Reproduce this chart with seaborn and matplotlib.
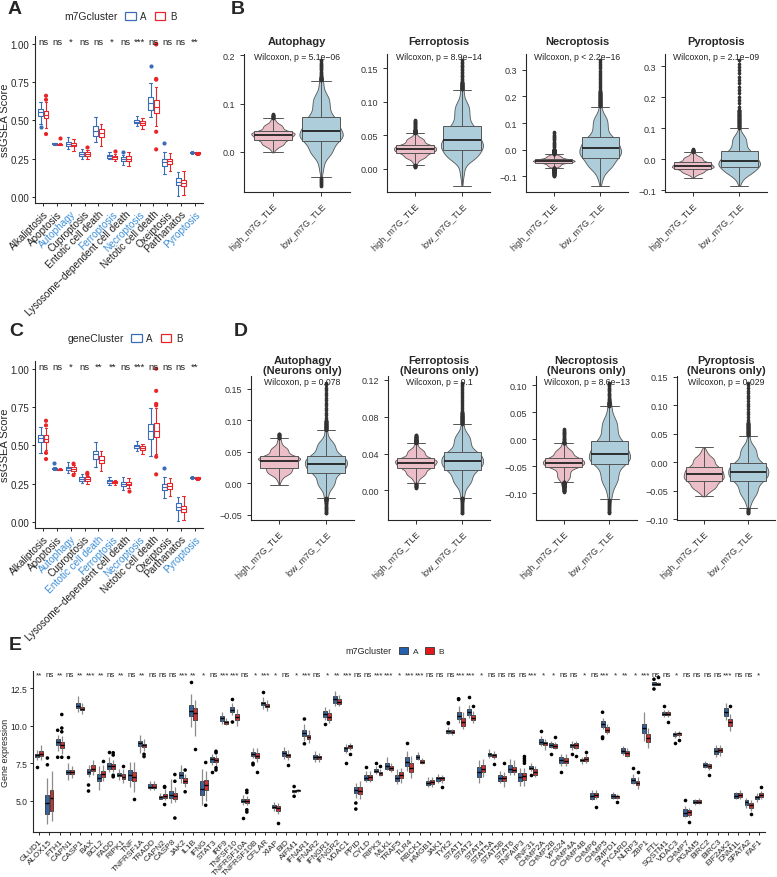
import numpy as np
import pandas as pd
import matplotlib
matplotlib.use("Agg")
import matplotlib.pyplot as plt
from matplotlib.patches import Patch
import seaborn as sns

sns.set_style("ticks")
plt.rcParams["font.family"] = ["Liberation Sans", "DejaVu Sans"]
plt.rcParams["axes.linewidth"] = 0.8

W, H = 777, 878

# ---------------- panels A / C ----------------
pcd_types = ["Alkaliptosis", "Apoptosis", "Autophagy", "Cuproptosis",
             "Entotic cell death", "Ferroptosis", "Lysosome\u2212dependent cell death",
             "Necroptosis", "Netotic cell death", "Oxeiptosis", "Parthanatos", "Pyroptosis"]
sig_m7g = ["ns", "ns", "*", "ns", "ns", "*", "ns", "***", "ns", "ns", "ns", "**"]
sig_gene = ["ns", "ns", "*", "ns", "**", "**", "ns", "***", "ns", "ns", "ns", "**"]
hl_m7g = ["Autophagy", "Ferroptosis", "Necroptosis", "Pyroptosis"]
hl_gene = ["Autophagy", "Entotic cell death", "Ferroptosis", "Necroptosis", "Pyroptosis"]

# (lower whisker, q1, median, q3, upper whisker)
m7g_A = [(0.475, 0.525, 0.552, 0.575, 0.62), (0.340, 0.343, 0.346, 0.349, 0.352),
         (0.31, 0.335, 0.345, 0.36, 0.39), (0.25, 0.27, 0.28, 0.29, 0.31),
         (0.355, 0.40, 0.43, 0.46, 0.52), (0.245, 0.255, 0.265, 0.272, 0.29),
         (0.205, 0.235, 0.245, 0.26, 0.275), (0.46, 0.482, 0.49, 0.50, 0.525),
         (0.52, 0.57, 0.61, 0.655, 0.74), (0.15, 0.20, 0.225, 0.245, 0.29),
         (0.005, 0.075, 0.10, 0.12, 0.165), (0.28, 0.285, 0.29, 0.295, 0.30)]
m7g_B = [(0.45, 0.513, 0.535, 0.563, 0.62), (0.338, 0.341, 0.344, 0.347, 0.35),
         (0.30, 0.33, 0.34, 0.352, 0.38), (0.25, 0.268, 0.28, 0.29, 0.305),
         (0.335, 0.39, 0.415, 0.44, 0.475), (0.235, 0.25, 0.258, 0.268, 0.28),
         (0.20, 0.235, 0.25, 0.265, 0.29), (0.44, 0.467, 0.48, 0.493, 0.515),
         (0.46, 0.545, 0.585, 0.635, 0.72), (0.17, 0.215, 0.235, 0.25, 0.285),
         (0.01, 0.07, 0.09, 0.108, 0.17), (0.275, 0.28, 0.285, 0.29, 0.295)]
m7g_out_A = {"Alkaliptosis": [0.455], "Lysosome\u2212dependent cell death": [0.29],
             "Netotic cell death": [0.855], "Oxeiptosis": [0.35]}
m7g_out_B = {"Alkaliptosis": [0.66, 0.634, 0.41], "Apoptosis": [0.385], "Cuproptosis": [0.325],
             "Ferroptosis": [0.30], "Netotic cell death": [1.0, 0.995, 0.77, 0.765, 0.425, 0.31]}

gene_A = [(0.45, 0.52, 0.545, 0.57, 0.62), (0.34, 0.343, 0.346, 0.35, 0.355),
          (0.32, 0.34, 0.35, 0.36, 0.39), (0.255, 0.27, 0.28, 0.29, 0.31),
          (0.355, 0.41, 0.44, 0.465, 0.52), (0.24, 0.255, 0.265, 0.272, 0.295),
          (0.21, 0.235, 0.245, 0.26, 0.29), (0.465, 0.482, 0.492, 0.50, 0.525),
          (0.43, 0.54, 0.59, 0.64, 0.74), (0.155, 0.205, 0.23, 0.245, 0.29),
          (0.005, 0.08, 0.10, 0.12, 0.165), (0.28, 0.285, 0.29, 0.295, 0.30)]
gene_B = [(0.47, 0.52, 0.54, 0.565, 0.61), (0.338, 0.341, 0.344, 0.347, 0.35),
          (0.32, 0.335, 0.345, 0.355, 0.37), (0.25, 0.27, 0.278, 0.29, 0.30),
          (0.335, 0.385, 0.405, 0.43, 0.46), (0.24, 0.252, 0.258, 0.265, 0.275),
          (0.22, 0.238, 0.25, 0.262, 0.285), (0.445, 0.468, 0.48, 0.493, 0.51),
          (0.44, 0.555, 0.595, 0.645, 0.74), (0.17, 0.215, 0.235, 0.255, 0.285),
          (0.01, 0.065, 0.085, 0.105, 0.17), (0.275, 0.28, 0.285, 0.29, 0.295)]
gene_out_A = {"Apoptosis": [0.385], "Oxeiptosis": [0.35]}
gene_out_B = {"Alkaliptosis": [0.66, 0.63, 0.45, 0.41], "Autophagy": [0.38, 0.305],
              "Cuproptosis": [0.32, 0.31], "Lysosome\u2212dependent cell death": [0.20],
              "Netotic cell death": [1.0, 0.855, 0.77, 0.76, 0.425, 0.31]}

# ---------------- panels B / D ----------------
vio_groups = ["high_m7G_TLE", "low_m7G_TLE"]
vio_titles = ["Autophagy", "Ferroptosis", "Necroptosis", "Pyroptosis"]
vio_probs = [0, 0.01, 0.05, 0.25, 0.5, 0.75, 0.95, 0.99, 1]
p_all = ["Wilcoxon, p = 5.1e\u221206", "Wilcoxon, p = 8.9e\u221214",
         "Wilcoxon, p < 2.2e\u221216", "Wilcoxon, p = 2.1e\u221209"]
p_neu = ["Wilcoxon, p = 0.078", "Wilcoxon, p = 0.1",
         "Wilcoxon, p = 8.6e\u221213", "Wilcoxon, p = 0.029"]
q_all_high = [[-0.001, 0.005, 0.012, 0.025, 0.035, 0.043, 0.058, 0.068, 0.078],
              [0.003, 0.008, 0.015, 0.024, 0.030, 0.036, 0.047, 0.058, 0.073],
              [-0.098, -0.085, -0.065, -0.048, -0.042, -0.035, -0.02, 0.0, 0.065],
              [-0.06, -0.052, -0.045, -0.03, -0.02, -0.008, 0.01, 0.022, 0.032]]
q_all_low = [[-0.07, -0.04, -0.01, 0.023, 0.044, 0.073, 0.12, 0.155, 0.19],
             [-0.025, -0.01, 0.012, 0.028, 0.043, 0.064, 0.10, 0.13, 0.162],
             [-0.135, -0.11, -0.075, -0.03, 0.005, 0.047, 0.13, 0.22, 0.335],
             [-0.085, -0.07, -0.05, -0.025, -0.004, 0.026, 0.08, 0.16, 0.32]]
q_neu_high = [[-0.002, 0.005, 0.013, 0.024, 0.036, 0.043, 0.058, 0.07, 0.079],
              [0.003, 0.009, 0.015, 0.024, 0.030, 0.035, 0.045, 0.055, 0.06],
              [-0.097, -0.088, -0.075, -0.052, -0.043, -0.034, -0.018, -0.005, 0.019],
              [-0.06, -0.055, -0.048, -0.033, -0.021, -0.008, 0.01, 0.02, 0.026]]
q_neu_low = [[-0.048, -0.028, -0.008, 0.017, 0.031, 0.044, 0.068, 0.1, 0.16],
             [-0.025, -0.01, 0.005, 0.022, 0.032, 0.042, 0.062, 0.085, 0.117],
             [-0.137, -0.11, -0.085, -0.046, -0.027, -0.003, 0.04, 0.07, 0.105],
             [-0.09, -0.075, -0.06, -0.033, -0.017, -0.001, 0.03, 0.07, 0.14]]
ticks_all = [[0, 0.1, 0.2], [0, 0.05, 0.10, 0.15], [-0.1, 0, 0.1, 0.2, 0.3], [-0.1, 0, 0.1, 0.2, 0.3]]
labs_all = [["0.0", "0.1", "0.2"], ["0.00", "0.05", "0.10", "0.15"],
            ["\u22120.1", "0.0", "0.1", "0.2", "0.3"], ["\u22120.1", "0.0", "0.1", "0.2", "0.3"]]
ticks_neu = [[-0.05, 0, 0.05, 0.10, 0.15], [0, 0.04, 0.08, 0.12],
             [-0.10, -0.05, 0, 0.05, 0.10], [-0.10, -0.05, 0, 0.05, 0.10, 0.15]]
labs_neu = [["\u22120.05", "0.00", "0.05", "0.10", "0.15"], ["0.00", "0.04", "0.08", "0.12"],
            ["\u22120.10", "\u22120.05", "0.00", "0.05", "0.10"],
            ["\u22120.10", "\u22120.05", "0.00", "0.05", "0.10", "0.15"]]

# ---------------- panel E ----------------
genes = ["GLUD1", "ALOX15", "FTH1", "CAPN1", "CASP1", "BAX", "BCL2", "FADD", "RIPK1", "TNF",
         "TNFRSF1A", "TRADD", "CAPN2", "CASP8", "JAK2", "IL1B", "IFNG", "STAT3", "IRF9", "TNFSF10",
         "TNFRSF10A", "TNFRSF10B", "CFLAR", "XIAP", "BID", "AIFM1", "IFNAR1", "IFNAR2", "IFNGR1",
         "IFNGR2", "VDAC1", "PPID", "CYLD", "RIPK3", "MLKL", "TRAF5", "TLR4", "RBCK1", "HMGB1",
         "JAK1", "TYK2", "STAT1", "STAT2", "STAT4", "STAT5A", "STAT5B", "STAT6", "TNFAIP3", "RNF31",
         "CHMP2A", "CHMP2B", "VPS24", "CHMP4A", "CHMP4B", "CHMP6", "CHMP5", "SMPD1", "PYCARD",
         "NLRP3", "ZBP1", "FTL", "SQSTM1", "VDAC3", "CHMP7", "PGAM5", "BIRC2", "BIRC3", "EIF2AK2",
         "DNM1L", "SPATA2", "FAF1"]
sig_e = ["**", "ns", "**", "ns", "**", "***", "**", "ns", "**", "ns", "**", "ns", "ns", "ns", "***",
         "**", "*", "ns", "***", "***", "ns", "*", "***", "*", "ns", "*", "***", "ns", "*", "**", "***",
         "ns", "ns", "***", "***", "*", "***", "***", "ns", "ns", "ns", "***", "***", "*", "ns", "ns",
         "ns", "ns", "***", "*", "*", "ns", "ns", "*", "ns", "***", "*", "**", "*", "***", "ns", "ns",
         "*", "ns", "ns", "ns", "ns", "***", "ns", "ns", "*"]
expr_A = [(7.7, 7.95, 8.05, 8.15, 8.4), (3.45, 4.15, 4.85, 5.4, 6.5), (8.3, 8.75, 8.95, 9.1, 9.4),
          (6.4, 6.8, 6.95, 7.05, 7.5), (10.9, 11.2, 11.35, 11.5, 12.0), (6.6, 6.8, 6.95, 7.1, 7.4),
          (5.7, 6.35, 6.55, 6.8, 7.3), (6.9, 7.15, 7.3, 7.5, 7.9), (6.4, 6.65, 6.75, 6.85, 7.1),
          (5.9, 6.4, 6.7, 7.05, 7.6), (8.2, 8.65, 8.85, 9.0, 9.4), (5.75, 5.85, 5.95, 6.1, 6.3),
          (5.1, 5.15, 5.25, 5.35, 5.55), (4.85, 5.2, 5.4, 5.65, 6.45), (6.2, 6.55, 6.7, 6.95, 7.4),
          (9.9, 10.65, 11.0, 11.4, 12.1), (4.7, 5.4, 5.8, 6.3, 7.1), (7.4, 7.6, 7.8, 7.95, 8.15),
          (10.15, 10.3, 10.55, 10.65, 10.95), (10.75, 10.95, 11.05, 11.25, 11.5),
          (4.75, 4.9, 5.0, 5.1, 5.4), (7.85, 8.0, 8.15, 8.25, 8.55), (11.1, 11.4, 11.5, 11.6, 11.9),
          (4.35, 4.5, 4.6, 4.7, 4.9), (7.8, 8.0, 8.2, 8.3, 8.6), (5.55, 5.6, 5.65, 5.7, 5.75),
          (9.0, 9.35, 9.55, 9.75, 10.1), (7.6, 7.8, 7.9, 8.05, 8.3), (10.4, 10.6, 10.8, 11.0, 11.25),
          (11.35, 11.55, 11.8, 12.0, 12.3), (8.2, 8.35, 8.5, 8.6, 8.8), (5.2, 5.5, 5.7, 5.9, 6.2),
          (6.25, 6.4, 6.55, 6.7, 7.0), (6.8, 6.9, 7.0, 7.1, 7.3), (7.05, 7.15, 7.35, 7.55, 7.95),
          (6.1, 6.3, 6.55, 6.75, 7.1), (7.0, 7.35, 7.6, 7.9, 8.3), (7.7, 7.8, 7.95, 8.05, 8.25),
          (5.9, 6.05, 6.2, 6.35, 6.6), (6.2, 6.35, 6.5, 6.6, 6.8), (9.45, 9.55, 9.65, 9.75, 9.9),
          (10.2, 10.45, 10.65, 10.9, 11.3), (10.5, 10.75, 10.95, 11.1, 11.4), (6.2, 6.6, 6.95, 7.25, 7.7),
          (7.85, 8.0, 8.1, 8.2, 8.45), (6.2, 6.35, 6.55, 6.75, 7.0), (6.7, 6.95, 7.15, 7.4, 7.8),
          (6.0, 6.3, 6.6, 6.85, 7.2), (7.0, 7.1, 7.2, 7.35, 7.55), (8.65, 8.8, 8.95, 9.1, 9.3),
          (8.5, 8.6, 8.75, 8.85, 9.0), (7.3, 7.55, 7.75, 7.9, 8.1), (8.4, 8.6, 8.7, 8.8, 9.0),
          (7.45, 7.65, 7.75, 7.8, 7.95), (5.05, 5.15, 5.35, 5.5, 5.75), (9.8, 9.95, 10.1, 10.3, 10.55),
          (5.15, 5.2, 5.35, 5.45, 5.6), (8.05, 8.2, 8.35, 8.5, 8.65), (6.1, 6.2, 6.4, 6.55, 6.8),
          (9.0, 9.55, 9.85, 10.15, 10.95), (12.65, 12.7, 12.8, 12.9, 12.95),
          (10.6, 10.7, 10.8, 10.95, 11.05), (9.2, 9.35, 9.45, 9.55, 9.65), (3.9, 4.0, 4.2, 4.45, 4.65),
          (4.75, 4.85, 4.95, 5.05, 5.15), (7.2, 7.25, 7.4, 7.5, 7.65), (7.9, 8.15, 8.35, 8.5, 8.7),
          (10.4, 10.65, 10.9, 11.2, 11.55), (5.1, 5.2, 5.35, 5.5, 5.6), (4.5, 4.7, 4.9, 5.05, 5.2),
          (4.95, 5.1, 5.25, 5.35, 5.55)]
expr_B = [(7.7, 8.0, 8.15, 8.3, 8.7), (3.65, 4.3, 5.2, 5.75, 7.0), (8.1, 8.5, 8.75, 8.9, 9.3),
          (6.55, 6.8, 6.9, 7.05, 7.3), (10.8, 11.05, 11.15, 11.25, 11.5), (6.7, 7.0, 7.15, 7.4, 7.7),
          (6.3, 6.6, 6.8, 7.0, 7.4), (6.95, 7.1, 7.3, 7.45, 7.75), (6.2, 6.45, 6.6, 6.8, 7.1),
          (5.6, 6.3, 6.6, 6.9, 7.6), (8.3, 8.6, 8.7, 8.8, 9.1), (5.7, 5.85, 5.95, 6.1, 6.3),
          (5.05, 5.2, 5.35, 5.45, 5.8), (4.9, 5.15, 5.35, 5.55, 5.9), (5.9, 6.2, 6.35, 6.5, 6.8),
          (9.3, 10.4, 10.85, 11.2, 11.7), (5.0, 5.75, 6.05, 6.4, 7.0), (7.35, 7.6, 7.75, 7.85, 8.05),
          (10.05, 10.15, 10.25, 10.35, 10.5), (10.0, 10.4, 10.6, 10.8, 11.1),
          (4.7, 4.85, 5.0, 5.1, 5.3), (7.6, 7.85, 8.0, 8.2, 8.5), (11.0, 11.25, 11.35, 11.45, 11.7),
          (4.1, 4.35, 4.5, 4.65, 4.85), (7.75, 7.95, 8.05, 8.15, 8.4), (5.6, 5.65, 5.7, 5.75, 5.8),
          (8.85, 9.1, 9.25, 9.4, 9.7), (7.6, 7.8, 7.9, 8.0, 8.2), (10.2, 10.4, 10.6, 10.85, 11.1),
          (11.3, 11.45, 11.6, 11.8, 12.05), (8.4, 8.55, 8.65, 8.7, 8.85), (5.1, 5.45, 5.65, 5.95, 6.3),
          (6.25, 6.4, 6.6, 6.75, 7.0), (6.65, 6.75, 6.85, 6.95, 7.1), (6.95, 7.05, 7.2, 7.3, 7.5),
          (6.2, 6.5, 6.7, 6.9, 7.2), (6.5, 6.9, 7.2, 7.55, 8.0), (7.45, 7.55, 7.6, 7.7, 7.85),
          (5.9, 6.1, 6.25, 6.4, 6.6), (6.2, 6.4, 6.5, 6.6, 6.75), (9.4, 9.5, 9.6, 9.7, 9.8),
          (9.8, 10.0, 10.25, 10.55, 10.9), (10.2, 10.4, 10.55, 10.7, 11.0), (6.6, 6.95, 7.15, 7.4, 7.8),
          (7.8, 7.95, 8.05, 8.15, 8.35), (5.9, 6.3, 6.5, 6.65, 6.9), (6.7, 6.9, 7.05, 7.25, 7.7),
          (6.0, 6.4, 6.65, 6.85, 7.2), (6.6, 6.75, 6.95, 7.1, 7.3), (8.4, 8.7, 8.85, 8.95, 9.15),
          (8.45, 8.55, 8.65, 8.8, 8.95), (7.3, 7.5, 7.65, 7.85, 8.1), (8.45, 8.55, 8.7, 8.85, 9.0),
          (7.55, 7.65, 7.8, 7.9, 8.1), (5.1, 5.25, 5.4, 5.55, 5.75), (9.45, 9.6, 9.75, 9.9, 10.1),
          (5.1, 5.2, 5.3, 5.35, 5.45), (7.9, 8.0, 8.2, 8.35, 8.5), (5.8, 6.05, 6.2, 6.35, 6.6),
          (8.55, 8.95, 9.2, 9.45, 9.85), (12.7, 12.75, 12.8, 12.85, 12.9),
          (10.6, 10.7, 10.8, 10.95, 11.05), (9.25, 9.4, 9.5, 9.55, 9.65), (3.95, 4.05, 4.25, 4.4, 4.55),
          (4.8, 4.85, 4.95, 5.05, 5.2), (7.05, 7.2, 7.3, 7.45, 7.55), (8.0, 8.25, 8.4, 8.5, 8.7),
          (9.65, 10.0, 10.25, 10.45, 10.8), (5.1, 5.25, 5.4, 5.5, 5.7), (4.35, 4.55, 4.75, 4.85, 5.05),
          (5.15, 5.25, 5.4, 5.5, 5.65)]
out_A = {"GLUD1": [7.27], "ALOX15": [7.4, 7.85], "FTH1": [9.7, 7.9], "CAPN1": [7.95],
         "BAX": [6.05, 5.65], "FADD": [8.25], "IL1B": [12.95], "STAT3": [6.95],
         "TNFSF10": [11.75, 10.25], "TNFRSF10A": [3.85], "TNFRSF10B": [7.5, 7.4], "CFLAR": [12.25],
         "AIFM1": [5.95, 5.3], "IFNAR1": [10.45, 8.8], "IFNGR1": [10.1], "VDAC1": [7.55],
         "PPID": [4.85, 4.45], "CYLD": [7.25], "RIPK3": [7.55], "TLR4": [8.85], "TYK2": [10.2, 10.15],
         "STAT1": [11.8, 11.75], "STAT2": [11.95], "RNF31": [6.7], "CHMP2A": [9.65], "CHMP2B": [8.1],
         "VPS24": [6.9], "CHMP4A": [8.15], "CHMP5": [10.9, 9.25, 9.15], "NLRP3": [7.2],
         "FTL": [13.1, 12.45], "SQSTM1": [11.3], "VDAC3": [8.85], "CHMP7": [5.05]}
out_B = {"FTH1": [10.75, 9.85, 9.6, 7.9], "BCL2": [7.65], "FADD": [8.2, 8.05, 6.7, 6.6],
         "RIPK1": [7.35], "TNF": [5.15], "TNFRSF1A": [8.1, 7.95], "CAPN2": [5.9, 5.95, 4.75],
         "CASP8": [6.75, 6.3, 3.85], "JAK2": [7.05, 5.6], "IL1B": [8.45], "IFNG": [7.55, 4.7],
         "STAT3": [8.3, 8.2, 7.2, 7.05], "TNFRSF10A": [5.7, 5.55, 4.4, 4.25], "TNFRSF10B": [6.95],
         "XIAP": [3.5], "BID": [7.4], "VDAC1": [8.15], "RIPK3": [7.3], "JAK1": [5.9], "STAT2": [11.3],
         "STAT5A": [7.45], "STAT5B": [7.5], "TNFAIP3": [7.95, 7.8, 7.65, 7.5], "CHMP2B": [9.25],
         "CHMP4A": [8.0], "CHMP4B": [8.25], "CHMP6": [4.6], "SMPD1": [4.95], "NLRP3": [6.95],
         "FTL": [13.25], "SQSTM1": [10.25], "VDAC3": [9.05], "CHMP7": [3.6], "BIRC2": [6.75],
         "EIF2AK2": [11.3], "SPATA2": [4.1], "FAF1": [5.95]}

line_pal = {"A": "#3A6DB8", "B": "#E8262A"}
fill_pal = {"A": "#2462B0", "B": "#E3191C"}
vio_pal = {"high_m7G_TLE": "#F4B6C2", "low_m7G_TLE": "#A7D0E1"}
hl_color = "#3D8FD6"


def add_ax(x0, y0, x1, y1):
    return fig.add_axes([x0 / W, 1 - y1 / H, (x1 - x0) / W, (y1 - y0) / H])


def summary_frame(cats, stats_a, stats_b):
    rows = []
    for c, sa, sb in zip(cats, stats_a, stats_b):
        rows += [(c, "A", v) for v in sa] + [(c, "B", v) for v in sb]
    return pd.DataFrame(rows, columns=["cat", "cluster", "value"])


def outlier_frame(oa, ob):
    rows = [(c, "A", v) for c, vs in oa.items() for v in vs]
    rows += [(c, "B", v) for c, vs in ob.items() for v in vs]
    return pd.DataFrame(rows, columns=["cat", "cluster", "value"])


def cluster_panel(ax, sa, sb, oa, ob, sig, hl, legend_title, title_right, ly):
    df = summary_frame(pcd_types, sa, sb)
    sns.boxplot(data=df, x="cat", y="value", hue="cluster", order=pcd_types,
                hue_order=["A", "B"], palette=line_pal, fill=False, whis=(0, 100),
                width=0.8, gap=0.1, linewidth=0.8, legend=False, ax=ax)
    odf = outlier_frame(oa, ob)
    sns.stripplot(data=odf, x="cat", y="value", hue="cluster", order=pcd_types,
                  hue_order=["A", "B"], palette=line_pal, dodge=True, jitter=False,
                  size=3, linewidth=0, legend=False, ax=ax)
    for i, s in enumerate(sig):
        ax.text(i, 1.015, s, ha="center", va="center", fontsize=6.8, color="#222222")
    ax.set_xlim(-0.6, len(pcd_types) - 0.4)
    ax.set_ylim(-0.04, 1.05)
    ax.set_yticks([0, 0.25, 0.5, 0.75, 1.0])
    ax.set_yticklabels(["0.00", "0.25", "0.50", "0.75", "1.00"], fontsize=7)
    ax.set_xticks(range(len(pcd_types)))
    ax.set_xticklabels(pcd_types, rotation=45, ha="right", rotation_mode="anchor", fontsize=7.2)
    for t in ax.get_xticklabels():
        t.set_color(hl_color if t.get_text() in hl else "#222222")
    ax.set_xlabel("")
    ax.set_ylabel("ssGSEA Score", fontsize=8)
    ax.yaxis.set_label_coords(-0.15, 0.5)
    ax.tick_params(length=2.5, width=0.7, pad=1.5)
    sns.despine(ax=ax)
    fig.text(title_right / W, 1 - ly / H, legend_title, ha="right", va="center", fontsize=7.5)
    handles = [Patch(facecolor="white", edgecolor=line_pal[k], linewidth=0.9, label=k) for k in ["A", "B"]]
    fig.legend(handles=handles, loc="center left", bbox_to_anchor=((title_right + 2) / W, 1 - ly / H),
               ncol=2, frameon=False, fontsize=7, handlelength=1.1, handleheight=0.9,
               handletextpad=0.5, columnspacing=0.8, borderpad=0)


def violin_panel(ax, q_hi, q_lo, title, ptxt, ticks, labs, pad, py):
    n = 1500
    grid = np.linspace(0, 1, n)
    df = pd.DataFrame({"group": np.repeat(vio_groups, n),
                       "score": np.concatenate([np.interp(grid, vio_probs, q_hi),
                                                np.interp(grid, vio_probs, q_lo)])})
    sns.violinplot(data=df, x="group", y="score", hue="group", palette=vio_pal, inner=None,
                   cut=0, density_norm="width", width=0.9, linewidth=0.6, linecolor="#555555",
                   legend=False, ax=ax)
    sns.boxplot(data=df, x="group", y="score", hue="group", palette=vio_pal, width=0.8,
                linewidth=0.7, linecolor="#555555", fliersize=1.6,
                flierprops=dict(marker="o", markerfacecolor="#333333", markeredgecolor="#333333"),
                medianprops=dict(color="#222222", linewidth=1.3), legend=False, ax=ax)
    ax.set_xlim(-0.6, 1.6)
    ax.set_yticks(ticks)
    ax.set_yticklabels(labs, fontsize=6.5)
    ax.set_xticks([0, 1])
    ax.set_xticklabels(vio_groups, rotation=45, ha="right", rotation_mode="anchor", fontsize=6.5)
    ax.set_xlabel("")
    ax.set_ylabel("")
    ax.tick_params(length=3, width=0.7, colors="#333333")
    ax.set_title(title, fontsize=8, fontweight="bold", pad=pad, linespacing=1.0)
    ax.text(0.5, py, ptxt, transform=ax.transAxes, ha="center", va="center", fontsize=6.2,
            color="#222222")
    sns.despine(ax=ax)


fig = plt.figure(figsize=(W / 100, H / 100), dpi=100)

ax_a = add_ax(35, 37, 203, 204)
cluster_panel(ax_a, m7g_A, m7g_B, m7g_out_A, m7g_out_B, sig_m7g, hl_m7g, "m7Gcluster", 118, 17)
ax_c = add_ax(35, 362, 203, 529)
cluster_panel(ax_c, gene_A, gene_B, gene_out_A, gene_out_B, sig_gene, hl_gene, "geneCluster", 124, 339)

b_boxes = [(244, 55, 350, 193), (387, 55, 490, 193), (526, 55, 628, 193), (665, 55, 767, 193)]
for i, bx in enumerate(b_boxes):
    violin_panel(add_ax(*bx), q_all_high[i], q_all_low[i], vio_titles[i], p_all[i],
                 ticks_all[i], labs_all[i], 7, 0.985)

d_boxes = [(251, 377, 354, 521), (388, 377, 490, 521), (536, 377, 637, 521), (677, 377, 775, 521)]
for i, bx in enumerate(d_boxes):
    violin_panel(add_ax(*bx), q_neu_high[i], q_neu_low[i], vio_titles[i] + "\n(Neurons only)",
                 p_neu[i], ticks_neu[i], labs_neu[i], 2, 0.965)

# panel E
ax_e = add_ax(33, 672, 765, 833)
edf = summary_frame(genes, expr_A, expr_B)
sns.boxplot(data=edf, x="cat", y="value", hue="cluster", order=genes, hue_order=["A", "B"],
            palette=fill_pal, whis=(0, 100), width=0.8, gap=0.05, linewidth=0.6,
            linecolor="#333333", whiskerprops=dict(color="#8C8C8C", linewidth=0.9),
            capprops=dict(linewidth=0), medianprops=dict(color="black", linewidth=1.0),
            legend=False, ax=ax_e)
eodf = outlier_frame(out_A, out_B)
sns.stripplot(data=eodf, x="cat", y="value", hue="cluster", order=genes, hue_order=["A", "B"],
              palette={"A": "black", "B": "black"}, dodge=True, jitter=False, size=2.6,
              linewidth=0, legend=False, ax=ax_e)
for i, s in enumerate(sig_e):
    ax_e.text(i, 13.4, s, ha="center", va="center", fontsize=5.8, color="#222222")
ax_e.set_xlim(-0.6, len(genes) - 0.4)
ax_e.set_ylim(2.92, 13.65)
ax_e.set_yticks([5.0, 7.5, 10.0, 12.5])
ax_e.set_yticklabels(["5.0", "7.5", "10.0", "12.5"], fontsize=6.2)
ax_e.set_xticks(range(len(genes)))
ax_e.set_xticklabels(genes, rotation=45, ha="right", rotation_mode="anchor", fontsize=6)
ax_e.set_xlabel("")
ax_e.set_ylabel("Gene expression", fontsize=6.5)
ax_e.yaxis.set_label_coords(-0.032, 0.5)
ax_e.tick_params(length=2.5, width=0.7, pad=1.5)
sns.despine(ax=ax_e)
fig.text(392 / W, 1 - 652 / H, "m7Gcluster", ha="right", va="center", fontsize=6.5)
fig.legend(handles=[Patch(facecolor=fill_pal[k], edgecolor="#333333", linewidth=0.6, label=k)
                    for k in ["A", "B"]],
           loc="center left", bbox_to_anchor=(395 / W, 1 - 652 / H), ncol=2, frameon=False,
           fontsize=6, handlelength=1.1, handleheight=0.9, handletextpad=0.5,
           columnspacing=0.8, borderpad=0)

for letter, x, y in [("A", 8, 10), ("B", 231, 10), ("C", 9, 332), ("D", 234, 331), ("E", 9, 646)]:
    fig.text(x / W, 1 - y / H, letter, fontsize=14, fontweight="bold", ha="left", va="center")

fig.savefig("out.png", dpi=100)
